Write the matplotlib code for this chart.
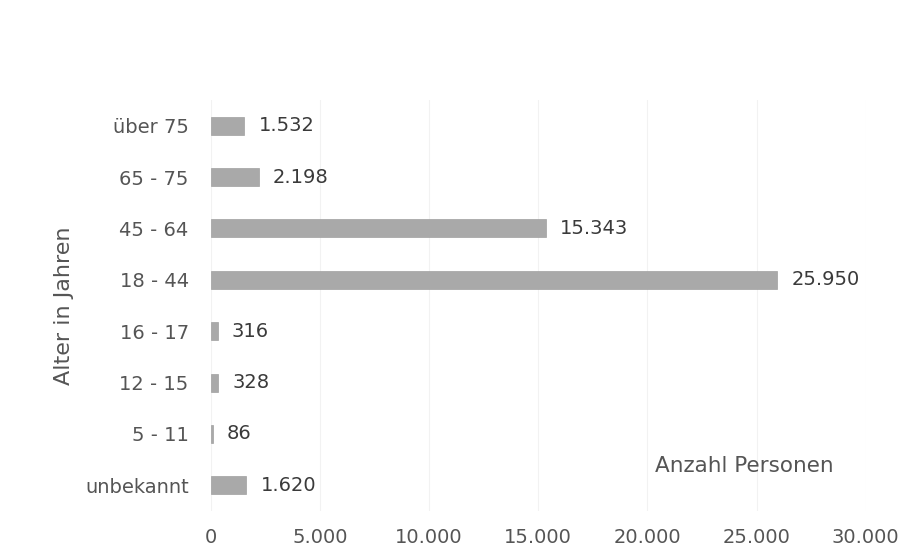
import numpy as np
import matplotlib.pyplot as plt
from matplotlib.ticker import FuncFormatter

categories = ['unbekannt', '5 - 11', '12 - 15', '16 - 17', '18 - 44', '45 - 64', '65 - 75', 'über 75']
values = [1620, 86, 328, 316, 25950, 15343, 2198, 1532]
xticks = [0, 5000, 10000, 15000, 20000, 25000, 30000]


def de_format(v, pos=None):
    return '{:,.0f}'.format(v).replace(',', '.')


plt.rcParams['font.family'] = ['DejaVu Sans']

fig = plt.figure(figsize=(9.17, 5.59), dpi=100)
ax = fig.add_axes([0.230, 0.086, 0.714, 0.735])

y = np.arange(len(categories))
ax.barh(y, values, height=0.35, color='#a9a9a9', edgecolor='#a0a0a0', linewidth=0.5)

for yi, v in zip(y, values):
    ax.text(v + 650, yi, de_format(v), va='center', ha='left', fontsize=14, color='#3a3a3a')

ax.set_xlim(0, 30000)
ax.set_ylim(-0.5, len(categories) - 0.5)
ax.set_xticks(xticks)
ax.xaxis.set_major_formatter(FuncFormatter(de_format))
ax.set_yticks(y)
ax.set_yticklabels(categories)

ax.tick_params(axis='both', length=0, labelsize=14, labelcolor='#555555')
ax.tick_params(axis='x', pad=12)
ax.tick_params(axis='y', pad=16)

ax.grid(axis='x', color='#f2f2f2', linewidth=0.8)
ax.set_axisbelow(True)
for s in ax.spines.values():
    s.set_visible(False)

ax.set_ylabel('Alter in Jahren', fontsize=16, color='#555555')
ax.yaxis.set_label_coords(-0.209, 0.5)
ax.text(0.678, 0.11, 'Anzahl Personen', transform=ax.transAxes, fontsize=15.5,
        color='#555555', ha='left', va='center')

plt.savefig('out.png', dpi=100, facecolor='white')
